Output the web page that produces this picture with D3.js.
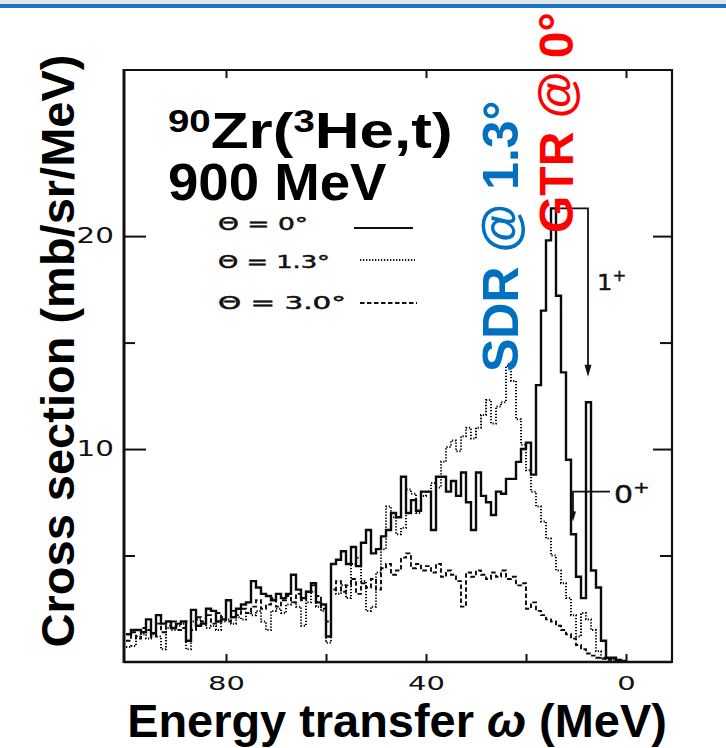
<!DOCTYPE html>
<html>
<head>
<meta charset="utf-8">
<script src="https://cdn.jsdelivr.net/npm/d3@7"></script>
<style>
  html, body { margin: 0; padding: 0; background: #fff; }
  svg { display: block; }
</style>
</head>
<body>
<svg id="chart" width="726" height="748"></svg>
<script>
// Spectra of 90Zr(3He,t) at 900 MeV, 1-MeV bins labelled by their upper edge (MeV)
const binTops = d3.range(100, 0, -1);

// Theta = 0 deg
const sigma0 = [
  1.3, 1.5, 1.5, 1.4, 2.0, 1.35, 2.2, 1.8, 1.9, 1.6,
  1.8, 1.9, 1.0, 2.45, 1.7, 1.8, 2.5, 2.4, 1.9, 2.0,
  2.9, 2.1, 2.5, 2.7, 2.8, 3.8, 3.5, 3.2, 3.1, 2.9,
  3.2, 3.0, 3.2, 4.1, 3.4, 3.0, 3.3, 3.7, 2.8, 2.7,
  1.2, 4.6, 4.8, 5.2, 4.6, 5.4, 4.5, 5.6, 6.2, 5.1,
  5.3, 5.9, 6.2, 7.0, 6.8, 8.7, 7.0, 7.6, 7.1, 8.0,
  8.0, 6.2, 8.7, 8.7, 8.0, 8.5, 7.8, 8.9, 7.5, 6.2,
  8.9, 7.8, 7.5, 6.9, 8.0, 7.9, 8.6, 8.6, 9.4, 10.0,
  10.3, 8.8, 13.0, 16.5, 19.8, 21.3, 17.2, 13.6, 9.5, 6.0,
  4.0, 3.0, 12.2, 4.3, 3.5, 1.0, 0.2, 0.2, 0.1, 0.05
];

// Theta = 1.3 deg
const sigma13 = [
  0.7, 0.75, 1.2, 1.3, 1.1, 1.3, 1.2, 0.6, 1.6, 1.5,
  1.7, 1.8, 0.6, 1.9, 2.0, 1.8, 1.6, 1.7, 1.5, 1.9,
  2.0, 1.8, 2.1, 2.0, 2.3, 2.2, 2.4, 1.9, 1.5, 2.4,
  2.5, 2.3, 2.7, 2.8, 2.6, 1.7, 2.8, 3.3, 2.6, 2.4,
  0.9, 3.4, 3.2, 3.6, 3.0, 4.6, 4.9, 3.8, 2.4, 2.6,
  4.2, 5.3, 7.3, 6.8, 6.0, 6.3, 8.1, 7.9, 7.0, 7.8,
  8.0, 8.4, 8.2, 9.4, 10.1, 10.4, 9.9, 10.6, 11.0, 10.5,
  11.0, 11.6, 12.3, 11.2, 12.0, 12.2, 13.9, 13.2, 11.4, 10.2,
  9.0, 8.0, 7.3, 6.6, 5.8, 5.0, 4.3, 3.7, 3.0, 2.2,
  1.2, 2.3, 2.0, 1.5, 0.5, 0.2, 0.15, 0.1, 0.1, 0.05
];

// Theta = 3.0 deg
const sigma30 = [
  1.0, 1.4, 1.1, 1.6, 1.5, 1.2, 1.8, 1.4, 1.7, 1.9,
  1.5, 1.6, 1.9, 1.5, 2.1, 1.9, 2.2, 1.8, 2.3, 2.1,
  1.9, 2.4, 2.2, 2.5, 2.3, 2.6, 2.9, 2.5, 2.7, 3.0,
  2.6, 2.9, 3.1, 2.8, 3.2, 2.9, 3.3, 3.6, 3.1, 2.5,
  1.9, 3.4, 3.8, 3.3, 3.6, 3.9, 3.2, 3.7, 3.5, 3.9,
  3.4, 4.4, 4.6, 4.1, 4.3, 4.9, 5.1, 4.4, 4.6, 4.3,
  4.5, 4.2, 4.6, 4.0, 4.3, 4.1, 3.8, 2.6, 4.2, 4.0,
  4.3, 4.1, 3.9, 4.2, 4.0, 4.3, 3.9, 4.0, 3.6, 3.7,
  2.5, 2.8, 2.4, 2.2, 2.0, 1.9, 1.7, 1.5, 1.3, 1.1,
  0.8, 0.6, 0.4, 0.3, 0.2, 0.15, 0.1, 0.1, 0.05, 0.05
];

const xTickLabels = [80, 40, 0];
const xTickMarks = [80, 60, 40, 20, 0];
const yMajorTicks = [10, 20];
const yMinorTicks = [5, 15];
const legendLabels = ["\u0398 = 0\u00b0", "\u0398 = 1.3\u00b0", "\u0398 = 3.0\u00b0"];

// Transition markers: GT 1+ peak and IAS 0+ peak
const gtPeak = { top: 14, value: 21.3, arrowAt: 7.6, arrowTo: 13.4 };
const iasPeak = { from: 3.2, value: 8.0, arrowAt: 10.6, arrowTo: 6.6 };

const svg = d3.select("#chart");
const W = 726, H = 748;
const pLeft = 124, pRight = 672, pTop = 70, pBottom = 662;

const x = d3.scaleLinear().domain([100.4, -9.2]).range([pLeft, pRight]);
const y = d3.scaleLinear().domain([0, 27.8]).range([pBottom, pTop]);

svg.append("rect").attr("width", W).attr("height", H).attr("fill", "#fff");

// header band
svg.append("rect").attr("x", 0).attr("y", 0).attr("width", W).attr("height", 4).attr("fill", "#e2e5e8");
svg.append("rect").attr("x", 0).attr("y", 4).attr("width", W).attr("height", 4).attr("fill", "#1b73c2");

const scanFont = "'DejaVu Sans', sans-serif";
const titleFont = "'Liberation Sans', Arial, sans-serif";

// histograms
const line = d3.line().x(d => x(d[0])).y(d => y(d[1])).curve(d3.curveStepAfter);
function steps(vals) {
  const pts = vals.map((v, i) => [binTops[i], v]);
  pts.push([binTops[binTops.length - 1] - 1, vals[vals.length - 1]]);
  return pts;
}
const series = [
  { vals: sigma30, dash: "4.5,2.5", width: 1.9 },
  { vals: sigma13, dash: "1.3,1.7", width: 2.0 },
  { vals: sigma0, dash: null, width: 2.4 }
];
series.forEach(s => {
  svg.append("path")
    .attr("d", line(steps(s.vals)))
    .attr("fill", "none")
    .attr("stroke", "#0a0a0a")
    .attr("stroke-width", s.width)
    .attr("stroke-dasharray", s.dash);
});

// frame
const frame = svg.append("g").attr("stroke", "#111").attr("fill", "none");
frame.append("line").attr("x1", pLeft).attr("x2", pLeft).attr("y1", pTop - 1).attr("y2", pBottom + 1).attr("stroke-width", 3);
frame.append("line").attr("x1", pRight).attr("x2", pRight).attr("y1", pTop - 1).attr("y2", pBottom + 1).attr("stroke-width", 2.2);
frame.append("line").attr("x1", pLeft).attr("x2", pRight).attr("y1", pTop).attr("y2", pTop).attr("stroke-width", 1.8);
frame.append("line").attr("x1", pLeft).attr("x2", pRight).attr("y1", pBottom).attr("y2", pBottom).attr("stroke-width", 2.4);

// axes (ticks point inward)
function styleAxis(g) {
  g.select(".domain").remove();
  g.selectAll(".tick line").attr("stroke", "#111").attr("stroke-width", 2);
}
svg.append("g").attr("transform", `translate(0,${pBottom})`)
  .call(d3.axisBottom(x).tickValues(xTickMarks).tickSizeInner(-8).tickSizeOuter(0).tickPadding(14)
    .tickFormat(d => xTickLabels.includes(d) ? d : ""))
  .call(styleAxis)
  .call(g => g.selectAll(".tick text")
    .attr("font-family", scanFont).attr("font-size", 20).attr("fill", "#111")
    .attr("transform", "scale(1.45,1)"));
svg.append("g").attr("transform", `translate(0,${pTop})`)
  .call(d3.axisTop(x).tickValues(xTickLabels).tickSizeInner(-8).tickSizeOuter(0).tickFormat(""))
  .call(styleAxis);

svg.append("g").attr("transform", `translate(${pLeft},0)`)
  .call(d3.axisLeft(y).tickValues(yMajorTicks).tickSizeInner(-22).tickSizeOuter(0).tickPadding(10))
  .call(styleAxis)
  .call(g => g.selectAll(".tick text")
    .attr("font-family", scanFont).attr("font-size", 21).attr("fill", "#111")
    .attr("x", -10 / 1.4).attr("transform", "scale(1.4,1)"));
svg.append("g").attr("transform", `translate(${pLeft},0)`)
  .call(d3.axisLeft(y).tickValues(yMinorTicks).tickSizeInner(-11).tickSizeOuter(0).tickFormat(""))
  .call(styleAxis);
svg.append("g").attr("transform", `translate(${pRight},0)`)
  .call(d3.axisRight(y).tickValues(yMajorTicks).tickSizeInner(-19).tickSizeOuter(0).tickFormat(""))
  .call(styleAxis);
svg.append("g").attr("transform", `translate(${pRight},0)`)
  .call(d3.axisRight(y).tickValues(yMinorTicks).tickSizeInner(-12).tickSizeOuter(0).tickFormat(""))
  .call(styleAxis);

// legend
const legendRows = [
  { base: 230, span: 90, lineY: 228, x1: 354, x2: 413, dash: null },
  { base: 268, span: 112, lineY: 260, x1: 360, x2: 415, dash: "1.3,1.7" },
  { base: 309, span: 128, lineY: 303, x1: 360, x2: 417, dash: "4.5,2.5" }
];
legendLabels.forEach((lab, i) => {
  const r = legendRows[i];
  svg.append("text")
    .attr("x", 218).attr("y", r.base)
    .attr("textLength", r.span).attr("lengthAdjust", "spacingAndGlyphs")
    .attr("font-family", scanFont).attr("font-size", 18).attr("fill", "#111")
    .attr("stroke", "#111").attr("stroke-width", 0.5)
    .text(lab);
  svg.append("line")
    .attr("x1", r.x1).attr("x2", r.x2).attr("y1", r.lineY).attr("y2", r.lineY)
    .attr("stroke", "#111").attr("stroke-width", 1.8)
    .attr("stroke-dasharray", r.dash);
});

// 1+ marker
const ann = svg.append("g").attr("stroke", "#111").attr("fill", "none").attr("stroke-width", 1.8);
ann.append("path").attr("d",
  `M${x(gtPeak.top)},${y(gtPeak.value)} H${x(gtPeak.arrowAt)} V${y(gtPeak.arrowTo) - 10}`);
svg.append("path")
  .attr("d", `M${x(gtPeak.arrowAt) - 3.5},${y(gtPeak.arrowTo) - 12} L${x(gtPeak.arrowAt) + 3.5},${y(gtPeak.arrowTo) - 12} L${x(gtPeak.arrowAt)},${y(gtPeak.arrowTo)} Z`)
  .attr("fill", "#111");
svg.append("text")
  .attr("transform", "translate(597,290) scale(1.1,1)")
  .attr("font-family", scanFont).attr("font-size", 22).attr("fill", "#111")
  .attr("stroke", "#111").attr("stroke-width", 0.4)
  .text("1")
  .append("tspan").attr("font-size", 15).attr("dy", -9).text("+");

// 0+ marker
ann.append("path").attr("d",
  `M${x(iasPeak.from)},${y(iasPeak.value)} H${x(iasPeak.arrowAt)} V${y(iasPeak.arrowTo) - 8}`);
svg.append("path")
  .attr("d", `M${x(iasPeak.arrowAt) - 3},${y(iasPeak.arrowTo) - 10} L${x(iasPeak.arrowAt) + 3},${y(iasPeak.arrowTo) - 10} L${x(iasPeak.arrowAt)},${y(iasPeak.arrowTo)} Z`)
  .attr("fill", "#111");
svg.append("text")
  .attr("transform", "translate(614,503) scale(1.25,1)")
  .attr("font-family", scanFont).attr("font-size", 24).attr("fill", "#111")
  .attr("stroke", "#111").attr("stroke-width", 0.4)
  .text("0")
  .append("tspan").attr("font-size", 16).attr("dy", -10).text("+");

// reaction label
const t1 = svg.append("text")
  .attr("transform", "translate(168,148) scale(1.24,1)")
  .attr("font-family", titleFont).attr("font-weight", "bold").attr("font-size", 50).attr("fill", "#000");
t1.append("tspan").attr("font-size", 31).attr("dy", -16).text("90");
t1.append("tspan").attr("dy", 16).text("Zr(");
t1.append("tspan").attr("font-size", 31).attr("dy", -16).text("3");
t1.append("tspan").attr("dy", 16).text("He,t)");
svg.append("text")
  .attr("transform", "translate(168,200) scale(1.05,1)")
  .attr("font-family", titleFont).attr("font-weight", "bold").attr("font-size", 52).attr("fill", "#000")
  .text("900 MeV");

// axis titles
svg.append("text")
  .attr("transform", "translate(74,351) rotate(-90)")
  .attr("text-anchor", "middle")
  .attr("font-family", titleFont).attr("font-weight", "bold").attr("font-size", 47).attr("fill", "#000")
  .text("Cross section (mb/sr/MeV)");
const xt = svg.append("text")
  .attr("transform", "translate(397,737) scale(1.02,1)")
  .attr("text-anchor", "middle")
  .attr("font-family", titleFont).attr("font-weight", "bold").attr("font-size", 46).attr("fill", "#000");
xt.append("tspan").text("Energy transfer ");
xt.append("tspan").attr("font-style", "italic").text("\u03c9");
xt.append("tspan").text(" (MeV)");

// resonance labels
svg.append("text")
  .attr("transform", "translate(518,372) rotate(-90)")
  .attr("font-family", titleFont).attr("font-weight", "bold").attr("font-size", 50).attr("fill", "#0070c0")
  .text("SDR @ 1.3\u00b0");
svg.append("text")
  .attr("transform", "translate(573,233) rotate(-90)")
  .attr("font-family", titleFont).attr("font-weight", "bold").attr("font-size", 48).attr("fill", "#ff0000")
  .text("GTR @ 0\u00b0");
</script>
</body>
</html>
